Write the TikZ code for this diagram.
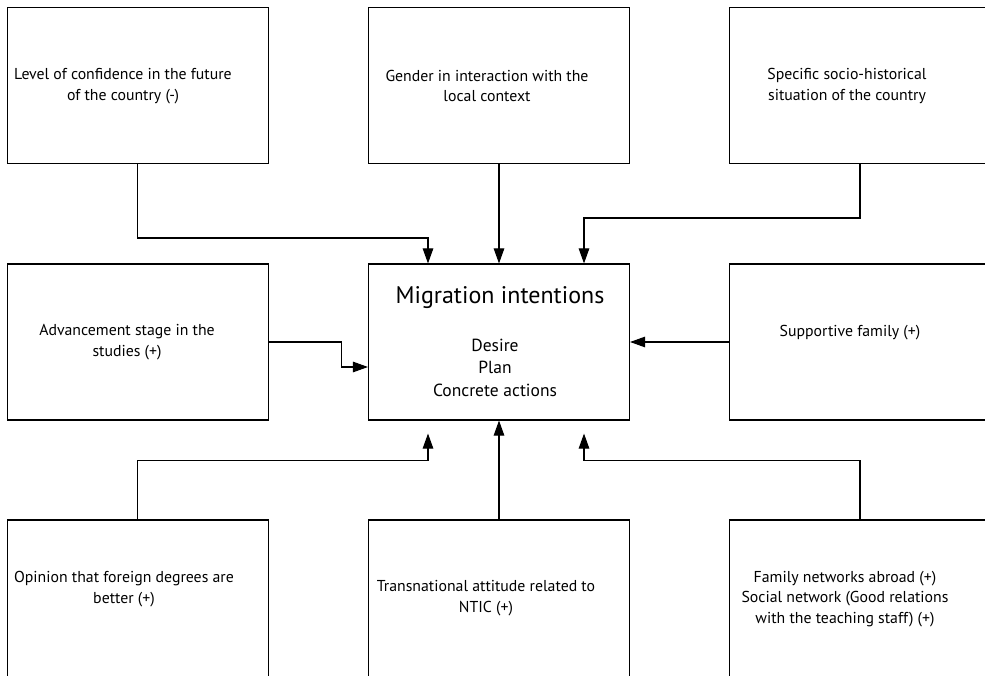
\documentclass[tikz,border=0pt]{standalone}
\usepackage{fontspec}
\setmainfont{PT Sans}
\usetikzlibrary{arrows.meta,positioning}
\begin{document}
\begin{tikzpicture}[x=1pt,y=-1pt,
  box/.style={draw=black,line width=1.1pt,minimum width=261pt,minimum height=156pt,inner sep=0pt},
  lbl/.style={align=center,inner sep=0pt,font=\fontsize{15.8}{20.5}\selectfont},
  arr/.style={draw=black,line width=1.1pt,-{Triangle[length=15pt,width=10.5pt]}},
  con/.style={draw=black,line width=1.1pt}]
\useasboundingbox (0,0) rectangle (985,676);
% boxes
\node[box] (tl) at (137.75,85.5) {};
\node[box] (tm) at (499,85.5) {};
\node[box] (tr) at (860,85.5) {};
\node[box] (ml) at (137.75,342) {};
\node[box] (c)  at (499,342) {};
\node[box] (mr) at (860,342) {};
\node[box,minimum height=164pt] (bl) at (137.75,602) {};
\node[box,minimum height=164pt] (bm) at (499,602) {};
\node[box,minimum height=164pt] (br) at (860,602) {};
% texts
\node[lbl] (t1) at (123,86) {Level of confidence in the future\\of the country (-)};
\node[lbl] (t2) at (487,86) {Gender in interaction with the\\local context};
\node[lbl] (t3) at (847,86) {Specific socio-historical\\situation of the country};
\node[lbl] (t4) at (127,342) {Advancement stage in the\\studies (+)};
\node[lbl,font=\fontsize{24}{26}\selectfont] (t5) at (500,298) {Migration intentions};
\node[lbl,font=\fontsize{17.5}{22.5}\selectfont] (t5b) at (495,367.5) {Desire\\Plan\\Concrete actions};
\node[lbl] (t6) at (850,333) {Supportive family (+)};
\node[lbl] (t7) at (124,589) {Opinion that foreign degrees are\\better (+)};
\node[lbl] (t8) at (486,598) {Transnational attitude related to\\NTIC (+)};
\node[lbl] (t9) at (845,599) {Family networks abroad (+)\\Social network (Good relations\\with the teaching staff) (+)};
% connectors
\coordinate (cbl) at ([xshift=-71pt,yshift=-13pt]c.south);
\coordinate (cbr) at ([xshift=85pt,yshift=-13pt]c.south);
\draw[arr] (tl.south) -- ++(0,74) -| ([xshift=-71pt]c.north);
\draw[arr] (tm.south) -- (c.north);
\draw[arr] (tr.south) -- ++(0,54) -| ([xshift=85pt]c.north);
\draw[arr] (ml.east) -- ++(73,0) |- ([yshift=-25pt]c.west);
\draw[arr] (mr.west) -- (c.east);
\draw[arr] (bm.north) -- (c.south);
\draw[arr] (bl.north) -- ++(0,-59) -| (cbl);
\draw[arr] (br.north) -- ++(0,-59) -| (cbr);
\end{tikzpicture}
\end{document}
